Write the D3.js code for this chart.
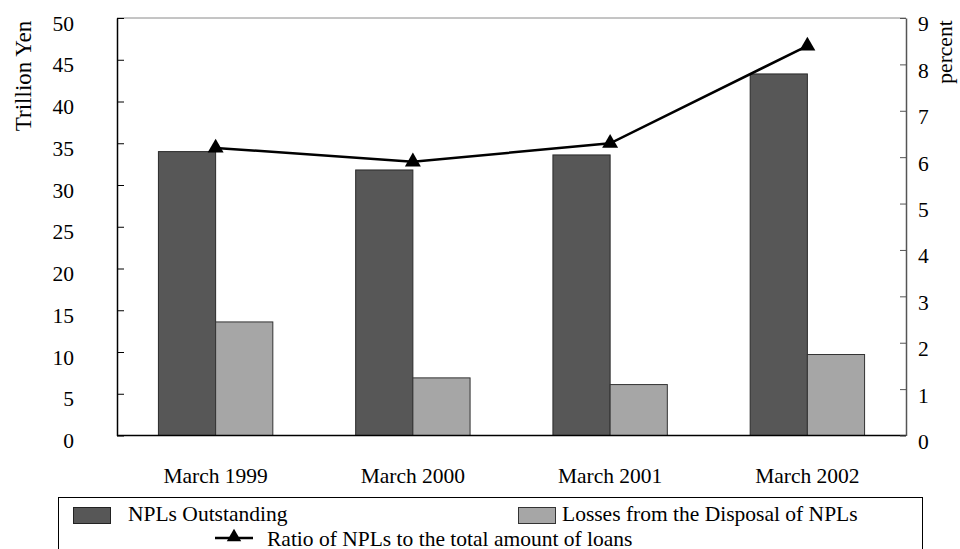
<!DOCTYPE html>
<html>
<head>
<meta charset="utf-8">
<script src="https://cdn.jsdelivr.net/npm/d3@7"></script>
<style>
  html, body { margin: 0; padding: 0; background: #fff; }
  svg text { font-family: "Liberation Serif", "Times New Roman", serif; fill: #000; }
</style>
</head>
<body>
<svg id="chart" width="960" height="549"></svg>
<script>
// Categories and series
const categories = ["March 1999", "March 2000", "March 2001", "March 2002"];
const nplOutstanding = [34.0, 31.8, 33.6, 43.3];      // trillion yen
const disposalLosses = [13.6, 6.9, 6.1, 9.7];         // trillion yen
const nplRatio = [6.2, 5.9, 6.3, 8.4];                // percent
const leftTicks = [0, 5, 10, 15, 20, 25, 30, 35, 40, 45, 50];
const rightTicks = [0, 1, 2, 3, 4, 5, 6, 7, 8, 9];
const seriesNames = ["NPLs Outstanding", "Losses from the Disposal of NPLs", "Ratio of NPLs to the total amount of loans"];

const svg = d3.select("#chart");
const FS = 21.5;
const plotL = 117, plotR = 906, plotT = 18, plotB = 435.5;

const x = d3.scaleBand().domain(categories).range([plotL, plotR])
  .paddingInner(0.42).paddingOuter(0.21);
const xSub = d3.scaleBand().domain(["npl", "loss"]).range([0, x.bandwidth()]);
const yL = d3.scaleLinear().domain([0, 50]).range([plotB, plotT]);
const yR = d3.scaleLinear().domain([0, 9]).range([plotB, plotT]);

// Bars
const groups = svg.append("g").selectAll("g").data(categories).join("g")
  .attr("transform", d => `translate(${x(d)},0)`);
groups.append("rect")
  .attr("x", xSub("npl")).attr("width", xSub.bandwidth())
  .attr("y", (d, i) => yL(nplOutstanding[i]))
  .attr("height", (d, i) => yL(0) - yL(nplOutstanding[i]))
  .attr("fill", "#575757").attr("stroke", "#2a2a2a").attr("stroke-width", 1);
groups.append("rect")
  .attr("x", xSub("loss")).attr("width", xSub.bandwidth())
  .attr("y", (d, i) => yL(disposalLosses[i]))
  .attr("height", (d, i) => yL(0) - yL(disposalLosses[i]))
  .attr("fill", "#a6a6a6").attr("stroke", "#333").attr("stroke-width", 1);

// Frame: top border and bottom baseline
svg.append("line").attr("x1", plotL).attr("x2", plotR).attr("y1", plotT).attr("y2", plotT)
  .attr("stroke", "#8a8a8a").attr("stroke-width", 1);
svg.append("line").attr("x1", plotL).attr("x2", plotR).attr("y1", plotB).attr("y2", plotB)
  .attr("stroke", "#000").attr("stroke-width", 1.5);

// Left axis
const axL = svg.append("g").attr("transform", `translate(${plotL},0)`)
  .call(d3.axisLeft(yL).tickValues(leftTicks).tickSizeInner(-7).tickSizeOuter(0).tickPadding(43));
axL.select(".domain").attr("stroke", "#000").attr("stroke-width", 1.5);
axL.selectAll(".tick line").attr("stroke", "#000");
axL.selectAll(".tick text").attr("font-size", FS).attr("dy", "0.56em")
  .attr("font-family", "Liberation Serif, serif");

// Right axis
const axR = svg.append("g").attr("transform", `translate(${plotR},0)`)
  .call(d3.axisRight(yR).tickValues(rightTicks).tickSizeInner(-6).tickSizeOuter(0).tickPadding(12));
axR.select(".domain").attr("stroke", "#555").attr("stroke-width", 1.5);
axR.selectAll(".tick line").attr("stroke", "#555");
axR.selectAll(".tick text").attr("font-size", FS).attr("dy", "0.6em")
  .attr("font-family", "Liberation Serif, serif");

// Category labels
svg.append("g").selectAll("text").data(categories).join("text")
  .attr("x", d => x(d) + x.bandwidth() / 2).attr("y", 483)
  .attr("text-anchor", "middle").attr("font-size", FS).text(d => d);

// Ratio line with triangle markers
const cx = d => x(d) + x.bandwidth() / 2;
const line = d3.line().x((v, i) => cx(categories[i])).y(v => yR(v));
svg.append("path").datum(nplRatio).attr("d", line)
  .attr("fill", "none").attr("stroke", "#000").attr("stroke-width", 2.5);
const tri = d3.symbol().type(d3.symbolTriangle).size(110);
svg.append("g").selectAll("path").data(nplRatio).join("path")
  .attr("d", tri)
  .attr("transform", (v, i) => `translate(${cx(categories[i])},${yR(v)})`)
  .attr("fill", "#000");

// Axis titles
svg.append("text").attr("transform", "translate(31,76) rotate(-90)")
  .attr("text-anchor", "middle").attr("font-size", 23).text("Trillion Yen");
svg.append("text").attr("transform", "translate(952,52) rotate(-90)")
  .attr("text-anchor", "middle").attr("font-size", FS).text("percent");

// Legend
const lg = svg.append("g");
lg.append("rect").attr("x", 58.5).attr("y", 497.5).attr("width", 864).attr("height", 80)
  .attr("fill", "none").attr("stroke", "#000").attr("stroke-width", 1);
lg.append("rect").attr("x", 73.5).attr("y", 507.5).attr("width", 37).attr("height", 16)
  .attr("fill", "#575757").attr("stroke", "#222");
lg.append("text").attr("x", 128).attr("y", 521).attr("font-size", FS).text(seriesNames[0]);
lg.append("rect").attr("x", 518.5).attr("y", 507.5).attr("width", 37).attr("height", 16)
  .attr("fill", "#a6a6a6").attr("stroke", "#333");
lg.append("text").attr("x", 562).attr("y", 521).attr("font-size", FS).text(seriesNames[1]);
lg.append("line").attr("x1", 215).attr("x2", 253).attr("y1", 538).attr("y2", 538)
  .attr("stroke", "#000").attr("stroke-width", 2.5);
lg.append("path").attr("d", d3.symbol().type(d3.symbolTriangle).size(90))
  .attr("transform", "translate(234,537)").attr("fill", "#000");
lg.append("text").attr("x", 267).attr("y", 546).attr("font-size", FS).text(seriesNames[2]);
</script>
</body>
</html>
